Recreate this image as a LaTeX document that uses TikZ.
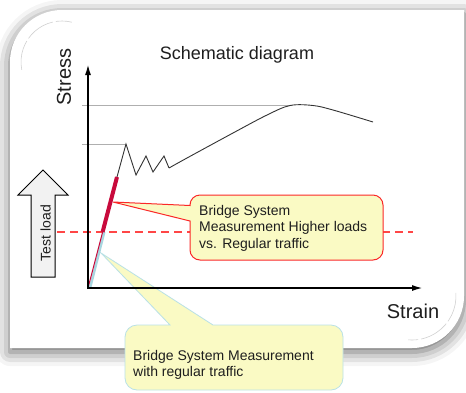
\documentclass[tikz,border=0pt]{standalone}
\usepackage{fontspec}
\setmainfont{Liberation Sans}
\usetikzlibrary{shadows.blur,arrows.meta}
\definecolor{noteyellow}{RGB}{250,250,196}
\definecolor{notered}{RGB}{250,40,40}
\definecolor{noteblue}{RGB}{185,225,230}
\definecolor{loadred}{RGB}{200,10,60}
\definecolor{elastic}{RGB}{168,214,224}
\definecolor{refgray}{RGB}{175,175,175}
\definecolor{dashred}{RGB}{255,70,70}
\definecolor{inktext}{RGB}{30,30,30}
\tikzset{
  axisline/.style={line width=1.8pt, -{Latex[length=11pt,width=6pt]}},
  guide/.style={refgray, line width=0.8pt},
  curl/.style={black!18, line width=0.6pt, dash pattern=on 30pt off 3pt},
  note/.style={fill=noteyellow, line width=1pt},
  notetext/.style={anchor=north west, inner sep=0pt, align=left, text=inktext,
    font=\fontsize{14}{16.5}\selectfont},
}
\begin{document}
\begin{tikzpicture}[x=1pt,y=-1pt]
\useasboundingbox (0,0) rectangle (466,392);

% sheet with soft shadow
\fill[white, blur shadow={shadow xshift=0pt,shadow yshift=-4pt,shadow blur radius=14pt,shadow opacity=60}]
  (10,348) -- (10,62) arc[start angle=180,end angle=270,radius=52]
  -- (464,10) -- (464,296) arc[start angle=0,end angle=90,radius=52] -- cycle;
\draw[curl] (62,62) ++(169:41) arc[start angle=169,end angle=284,radius=41];
\draw[curl] (412,296) ++(-4:44) arc[start angle=-4,end angle=95,radius=44];

% key points
\coordinate (O) at (88,288);
\coordinate (yieldtop) at (117,177);
\coordinate (testpt) at (102.6,232);

% guide lines
\draw[guide] (82,105) -- (292,105);
\draw[guide] (82,144) -- (126,144);

% test load level
\draw[dashred, line width=1.8pt, dash pattern=on 8pt off 5pt] (57,232) -- (413,232);

% test load arrow
\draw[fill=black!5, line width=1pt, line join=miter]
  (31,277) -- (31,195) -- (18,195) -- (43,170) -- (68,195) -- (55,195) -- (55,277) -- cycle;
\node[rotate=90, text=inktext, font=\fontsize{14}{16}\selectfont] (testload) at (45.5,233) {Test load};

% callout: higher loads
\draw[note, draw=notered]
  (113,202) -- (190,205.5) -- (190,205) arc[start angle=180,end angle=270,radius=10]
  -- (373,195) arc[start angle=270,end angle=360,radius=10]
  -- (383,250) arc[start angle=0,end angle=90,radius=10]
  -- (200,260) arc[start angle=90,end angle=180,radius=10]
  -- (190,221) -- cycle;
\node[notetext] (hightext) at (199,205) {Bridge System\\Measurement Higher loads\\vs. Regular traffic};

% callout: regular traffic
\draw[note, draw=noteblue, line width=0.8pt]
  (101,253) -- (213,325) -- (331,325) arc[start angle=270,end angle=360,radius=12]
  -- (343,378) arc[start angle=0,end angle=90,radius=12]
  -- (137,390) arc[start angle=90,end angle=180,radius=12]
  -- (125,337) arc[start angle=180,end angle=270,radius=12]
  -- (170,325) -- cycle;
\node[notetext] (regtext) at (133,350) {Bridge System Measurement\\with regular traffic};

% stress-strain curve
\draw[black!80, line width=0.9pt, line join=miter]
  (yieldtop) -- (126,144) -- (136,175) -- (146,156) -- (153,172) -- (164,156) -- (169,168)
  plot[smooth, tension=0.55] coordinates {(169,168) (187,158) (233,133) (267,115) (290,105.5) (313,105.5) (333,110) (373,122)};

% elastic branch
\draw[elastic, line width=2.6pt] (90,288) -- (104.2,232);
\draw[loadred, line width=1pt] (O) -- (yieldtop);
\draw[loadred, line width=4pt] (testpt) -- (yieldtop);

% axes
\draw[axisline] (88,289) -- (88,64);
\draw[axisline] (87,288) -- (423,288);

% labels
\node[text=inktext, font=\fontsize{18}{20}\selectfont] (title) at (237,55) {Schematic diagram};
\node[rotate=90, text=inktext, font=\fontsize{20}{22}\selectfont] (stress) at (64,77) {Stress};
\node[text=inktext, font=\fontsize{20}{22}\selectfont] (strain) at (413,311) {Strain};
\end{tikzpicture}
\end{document}
